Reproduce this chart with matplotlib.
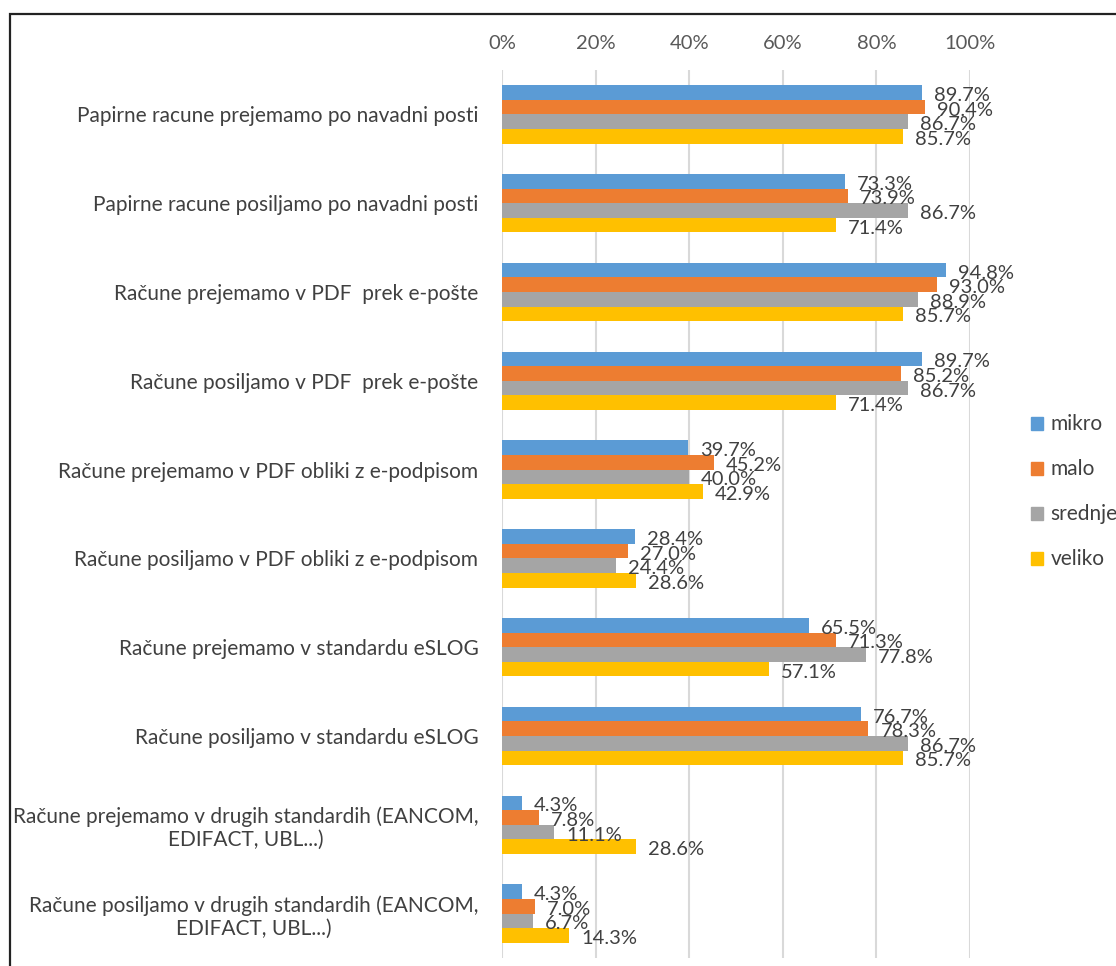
import matplotlib
matplotlib.use("Agg")
import matplotlib.pyplot as plt
import matplotlib.patches as mpatches
import numpy as np

plt.rcParams['font.family'] = ['Lato', 'DejaVu Sans']

categories = [
    "Papirne racune prejemamo po navadni posti",
    "Papirne racune posiljamo po navadni posti",
    "Račune prejemamo v PDF  prek e-pošte",
    "Račune posiljamo v PDF  prek e-pošte",
    "Račune prejemamo v PDF obliki z e-podpisom",
    "Račune posiljamo v PDF obliki z e-podpisom",
    "Račune prejemamo v standardu eSLOG",
    "Račune posiljamo v standardu eSLOG",
    "Račune prejemamo v drugih standardih (EANCOM,\nEDIFACT, UBL...)",
    "Račune posiljamo v drugih standardih (EANCOM,\nEDIFACT, UBL...)",
]
series_names = ["mikro", "malo", "srednje", "veliko"]
mikro = [89.7, 73.3, 94.8, 89.7, 39.7, 28.4, 65.5, 76.7, 4.3, 4.3]
malo = [90.4, 73.9, 93.0, 85.2, 45.2, 27.0, 71.3, 78.3, 7.8, 7.0]
srednje = [86.7, 86.7, 88.9, 86.7, 40.0, 24.4, 77.8, 86.7, 11.1, 6.7]
veliko = [85.7, 71.4, 85.7, 71.4, 42.9, 28.6, 57.1, 85.7, 28.6, 14.3]
x_ticks = [0, 20, 40, 60, 80, 100]
x_tick_labels = ["0%", "20%", "40%", "60%", "80%", "100%"]

colors = ["#5B9BD5", "#ED7D31", "#A5A5A5", "#FFC000"]
series = [mikro, malo, srednje, veliko]

W, H = 1116, 966
fig = plt.figure(figsize=(W / 100, H / 100), dpi=100)
ax = fig.add_axes([502 / W, 1 - 958 / H, 468 / W, 888 / H])

n = len(categories)
y = np.arange(n)
h = 14.6 / 88.8
text_color = "#404040"
for k, (vals, c) in enumerate(zip(series, colors)):
    pos = y + (k - 1.5) * h
    ax.barh(pos, vals, height=h, color=c, zorder=3, label=series_names[k])
    for v, p in zip(vals, pos):
        ax.annotate(f"{v:.1f}%", xy=(v, p), xytext=(12, -3),
                    textcoords="offset pixels",
                    ha="left", va="center", fontsize=14.5, color=text_color, zorder=4)

ax.set_xlim(0, 100)
ax.set_ylim(n - 0.5, -0.5)
ax.set_xticks(x_ticks)
ax.set_xticklabels(x_tick_labels)
ax.xaxis.tick_top()
ax.tick_params(axis="x", length=0, pad=13, labelsize=14.5, labelcolor="#595959")
ax.set_yticks(y)
ax.set_yticklabels(categories, multialignment="center")
ax.tick_params(axis="y", length=0, pad=17, labelsize=15, labelcolor="#404040")
ax.grid(axis="x", color="#d9d9d9", linewidth=1.5, zorder=0)
for s in ax.spines.values():
    s.set_visible(False)

handles = [mpatches.Patch(color=c, label=nm) for c, nm in zip(colors, series_names)]
fig.legend(handles=handles, loc="center left", bbox_to_anchor=(1012 / W, 1 - 492 / H),
           frameon=False, fontsize=15, labelspacing=1.2, handlelength=0.6,
           handleheight=0.6, handletextpad=0.35, labelcolor="#404040")

frame = mpatches.Rectangle((9.5 / W, -0.2), 1.2, 1.2 - 13.5 / H, transform=fig.transFigure,
                           fill=False, edgecolor="#222222", linewidth=1.6, clip_on=False)
fig.patches.append(frame)

fig.savefig("out.png", dpi=100)
